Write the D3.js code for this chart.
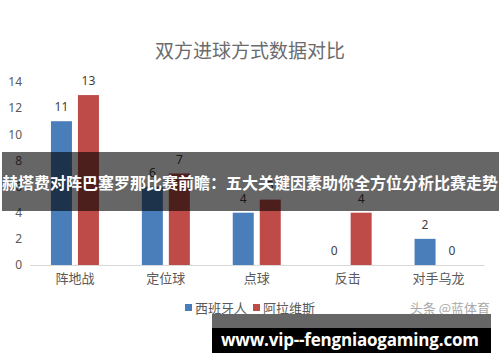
<!DOCTYPE html>
<html>
<head>
<meta charset="utf-8">
<script src="https://cdn.jsdelivr.net/npm/d3@7"></script>
<style>
  body { margin: 0; background: #fff; }
  svg { display: block; }
  text { font-family: "Noto Sans CJK SC", "Noto Sans", sans-serif; }
</style>
</head>
<body>
<svg id="chart" width="500" height="362"></svg>
<script>
// chart data
const categories = ['阵地战', '定位球', '点球', '反击', '对手乌龙'];
const seriesNames = ['西班牙人', '阿拉维斯'];
const espanyol = [11, 6, 4, 0, 2];
const alaves = [13, 7, 5, 4, 0];
const yTicks = [0, 2, 4, 6, 8, 10, 12, 14];

const chartTitle = '双方进球方式数据对比';
const bannerText = '赫塔费对阵巴塞罗那比赛前瞻：五大关键因素助你全方位分析比赛走势';
const markText = '头条 @蓝体育';
const urlText = 'www.vip--fengniaogaming.com';

const colors = ['#4a7ebb', '#be4b48'];

const svg = d3.select('#chart');
const g = svg.append('g');

// scales
const x = d3.scaleBand().domain(categories).range([29.5, 484]);
const xSub = d3.scaleBand().domain(seriesNames).range([-24, 24]).paddingInner(0.222);
const y = d3.scaleLinear().domain([0, 14]).range([265, 82]);

// title
g.append('text')
    .attr('x', 250).attr('y', 58)
    .attr('text-anchor', 'middle')
    .attr('font-size', 19)
    .attr('fill', '#6b6b6b')
    .text(chartTitle);

// y axis labels (no line, no grid)
const yAxis = d3.axisLeft(y).tickValues(yTicks).tickSize(0).tickPadding(0);
const ya = g.append('g').attr('transform', 'translate(22,0)').call(yAxis);
ya.select('.domain').remove();
ya.selectAll('text')
    .attr('font-size', 12)
    .attr('fill', '#595959')
    .style('font-family', '"Noto Sans", sans-serif');

// x axis
const xAxis = d3.axisBottom(x).tickSize(0).tickPadding(9);
const xa = g.append('g').attr('transform', `translate(0,${y(0)})`).call(xAxis);
xa.select('.domain').attr('stroke', '#d9d9d9');
xa.selectAll('text')
    .attr('font-size', 13)
    .attr('fill', '#595959');

// bars
const seriesData = [espanyol, alaves];
seriesData.forEach((vals, si) => {
    const name = seriesNames[si];
    const sg = g.append('g');
    sg.selectAll('rect')
        .data(vals)
        .join('rect')
        .attr('x', (d, i) => x(categories[i]) + x.bandwidth() / 2 + xSub(name))
        .attr('y', d => y(d))
        .attr('width', xSub.bandwidth())
        .attr('height', d => y(0) - y(d))
        .attr('fill', colors[si]);

    sg.selectAll('text')
        .data(vals)
        .join('text')
        .attr('x', (d, i) => x(categories[i]) + x.bandwidth() / 2 + xSub(name) + xSub.bandwidth() / 2)
        .attr('y', d => y(d) - 10)
        .attr('text-anchor', 'middle')
        .attr('font-size', 12)
        .attr('fill', '#404040')
        .style('font-family', '"Noto Sans", sans-serif')
        .text(d => d);
});

// legend
const legend = g.append('g').attr('transform', 'translate(185,308)');
const legendX = [0, 68];
seriesNames.forEach((name, i) => {
    legend.append('rect')
        .attr('x', legendX[i]).attr('y', -4)
        .attr('width', 7).attr('height', 7)
        .attr('fill', colors[i]);
    legend.append('text')
        .attr('x', legendX[i] + 10).attr('y', 5)
        .attr('font-size', 13)
        .attr('fill', '#595959')
        .text(name);
});

// faint watermark
g.append('text')
    .attr('x', 490).attr('y', 313)
    .attr('text-anchor', 'end')
    .attr('font-size', 13)
    .attr('fill', '#a8a8a8')
    .text(markText);

// dark banner over the chart
g.append('rect')
    .attr('x', 2).attr('y', 152)
    .attr('width', 497).attr('height', 59)
    .attr('fill', '#000').attr('fill-opacity', 0.6);
g.append('text')
    .attr('x', 250).attr('y', 189)
    .attr('text-anchor', 'middle')
    .attr('font-size', 16)
    .attr('font-weight', 'bold')
    .attr('fill', '#fff')
    .attr('textLength', 496)
    .text(bannerText);

// bottom url box
g.append('rect')
    .attr('x', 212).attr('y', 314)
    .attr('width', 279).attr('height', 14)
    .attr('fill', '#666');
g.append('rect')
    .attr('x', 212).attr('y', 328)
    .attr('width', 279).attr('height', 25)
    .attr('fill', '#000');
g.append('text')
    .attr('x', 350).attr('y', 346)
    .attr('text-anchor', 'middle')
    .attr('font-size', 17)
    .attr('font-weight', 'bold')
    .attr('fill', '#fff')
    .attr('textLength', 258)
    .style('font-family', '"Open Sans", sans-serif')
    .text(urlText);
</script>
</body>
</html>
